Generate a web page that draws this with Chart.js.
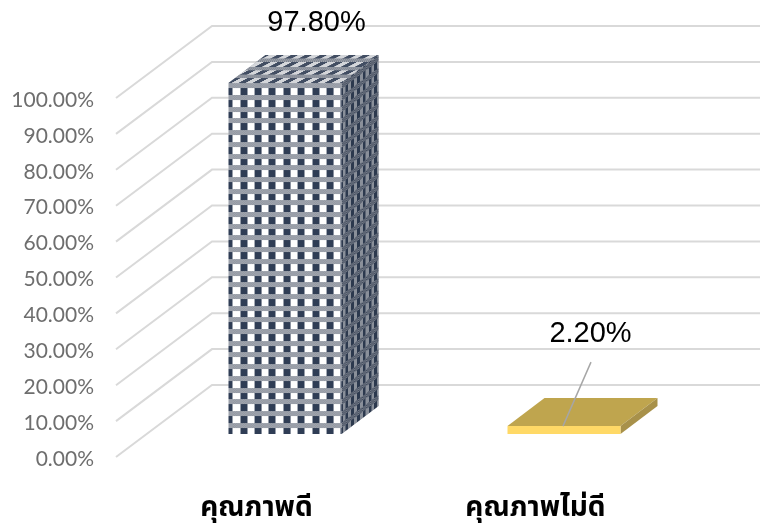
<!DOCTYPE html>
<html>
<head>
<meta charset="utf-8">
<script src="https://cdn.jsdelivr.net/npm/chart.js@4"></script>
<style>
  html, body { margin: 0; padding: 0; background: #fff; }
  #box { width: 760px; height: 526px; }
</style>
</head>
<body>
<div id="box"><canvas id="grafico"></canvas></div>
<script>
// data
const categorias = ["คุณภาพดี", "คุณภาพไม่ดี"];
const valores = [97.8, 2.2];
const rotulos = ["97.80%", "2.20%"];
const escalaMax = 100;
const escalaPasso = 10;

// depth of the walls and of the bars
const paredeDx = 95, paredeDy = 72;
const barraX = 28.5, barraY = 23;
const fundoDx = 37, fundoDy = 28;

// check tile for the first bar: 10 x 10 periods so the 14.4 / 11.7 spacing stays crisp
function xadrez() {
    const c = document.createElement("canvas");
    c.width = 144; c.height = 117;
    const g = c.getContext("2d");
    g.fillStyle = "#fff";
    g.fillRect(0, 0, 144, 117);
    for (let l = 0; l < 10; l++) {
        const y0 = Math.round(l * 11.7);
        g.fillStyle = "#2f3d55";
        for (let k = 0; k < 10; k++) {
            g.fillRect(Math.round(k * 14.4), y0 + 5, 7, 7);
        }
        // speckled band
        for (let x = 0; x < 144; x++) {
            for (let y = 0; y < 5; y++) {
                g.fillStyle = (x + y) % 2 ? "#666e7c" : "#cfd1d6";
                g.fillRect(x, y0 + y, 1, 1);
            }
        }
    }
    return c;
}

const ctxGrafico = document.getElementById("grafico").getContext("2d");
const padrao = ctxGrafico.createPattern(xadrez(), "repeat");
padrao.setTransform(new DOMMatrix().translate(10, 1));

function face(ctx, pontos, cor) {
    ctx.beginPath();
    pontos.forEach((p, i) => i ? ctx.lineTo(p[0], p[1]) : ctx.moveTo(p[0], p[1]));
    ctx.closePath();
    ctx.fillStyle = cor;
    ctx.fill();
}

const plugin3d = {
    id: "plugin3d",
    beforeDatasetsDraw(chart) {
        const ctx = chart.ctx, y = chart.scales.y, area = chart.chartArea;
        ctx.save();
        ctx.strokeStyle = "#d9d9d9";
        ctx.lineWidth = 2;
        y.ticks.forEach((t, i) => {
            const py = y.getPixelForTick(i);
            ctx.beginPath();
            ctx.moveTo(area.left - 1, py);
            ctx.lineTo(area.left + paredeDx, py - paredeDy);
            ctx.lineTo(chart.width, py - paredeDy);
            ctx.stroke();
        });
        ctx.restore();
    },
    beforeDatasetDraw(chart, args) {
        const ctx = chart.ctx;
        const barras = args.meta.data;

        barras.forEach((b, i) => {
            const esq = b.x - b.width / 2 + barraX;
            const dir = b.x + b.width / 2 + barraX;
            const topo = b.y - barraY;
            const base = b.base - barraY;
            const cima = [[esq, topo], [esq + fundoDx, topo - fundoDy], [dir + fundoDx, topo - fundoDy], [dir, topo]];
            const lado = [[dir, topo], [dir + fundoDx, topo - fundoDy], [dir + fundoDx, base - fundoDy], [dir, base]];

            if (i === 0) {
                // top face, pattern sheared along the depth
                ctx.save();
                face(ctx, cima, "#6f7683");
                ctx.clip();
                ctx.setTransform(1, 0, -fundoDx / fundoDy, 0.7, esq + topo * fundoDx / fundoDy, topo * 0.3);
                ctx.globalAlpha = 0.7;
                ctx.fillStyle = padrao;
                ctx.fillRect(-500, -500, 2000, 2000);
                ctx.restore();

                // side face, darker
                ctx.save();
                face(ctx, lado, "#2a3548");
                ctx.clip();
                ctx.setTransform(0.4, -fundoDy / fundoDx * 0.4, 0, 1, dir, topo);
                ctx.globalAlpha = 0.45;
                ctx.fillStyle = padrao;
                ctx.fillRect(-100, -100, 400, 800);
                ctx.restore();
            } else {
                ctx.save();
                face(ctx, cima, "#bfa54e");
                face(ctx, lado, "#a8914a");
                ctx.restore();
            }
        });

        // front faces are the library's own bars, moved to the bar plane
        ctx.save();
        ctx.translate(barraX, -barraY);
    },
    afterDatasetDraw(chart) {
        chart.ctx.restore();
    },
    afterDraw(chart) {
        const ctx = chart.ctx;
        const barras = chart.getDatasetMeta(0).data;
        // leader line of the small bar
        ctx.save();
        ctx.strokeStyle = "#a6a6a6";
        ctx.lineWidth = 1.5;
        ctx.beginPath();
        ctx.moveTo(barras[1].x + barraX - 1, barras[1].y - barraY);
        ctx.lineTo(barras[1].x + barraX + 27, barras[1].y - barraY - 64);
        ctx.stroke();
        // data labels
        ctx.fillStyle = "#000";
        ctx.font = "29px 'Liberation Sans'";
        ctx.textAlign = "center";
        ctx.textBaseline = "middle";
        ctx.fillText(rotulos[0], barras[0].x + 60, barras[0].y - 83);
        ctx.fillText(rotulos[1], barras[1].x + 55, barras[1].y - 115);
        ctx.restore();
    }
};

new Chart(ctxGrafico, {
    type: "bar",
    data: {
        labels: categorias,
        datasets: [{
            data: valores,
            backgroundColor: [padrao, "#ffd966"],
            barPercentage: 0.405,
            categoryPercentage: 1,
            clip: false
        }]
    },
    options: {
        responsive: true,
        maintainAspectRatio: false,
        animation: false,
        layout: { padding: { top: 98, right: 85, left: 0, bottom: 0 } },
        plugins: { legend: { display: false }, tooltip: { enabled: false } },
        scales: {
            x: {
                grid: { display: false },
                border: { display: false },
                afterFit(s) { s.height = 69; },
                ticks: {
                    color: "#000",
                    padding: 29,
                    maxRotation: 0,
                    font: { family: "'Noto Sans Thai', 'Noto Sans', sans-serif", size: 28, weight: "bold" }
                }
            },
            y: {
                min: 0,
                max: escalaMax,
                grid: { display: false },
                border: { display: false },
                afterFit(s) { s.width = 117; },
                ticks: {
                    stepSize: escalaPasso,
                    color: "#6e6e6e",
                    padding: 15,
                    labelOffset: 2,
                    font: { family: "Lato", size: 21 },
                    callback: v => v.toFixed(2) + "%"
                }
            }
        }
    },
    plugins: [plugin3d]
});
</script>
</body>
</html>
